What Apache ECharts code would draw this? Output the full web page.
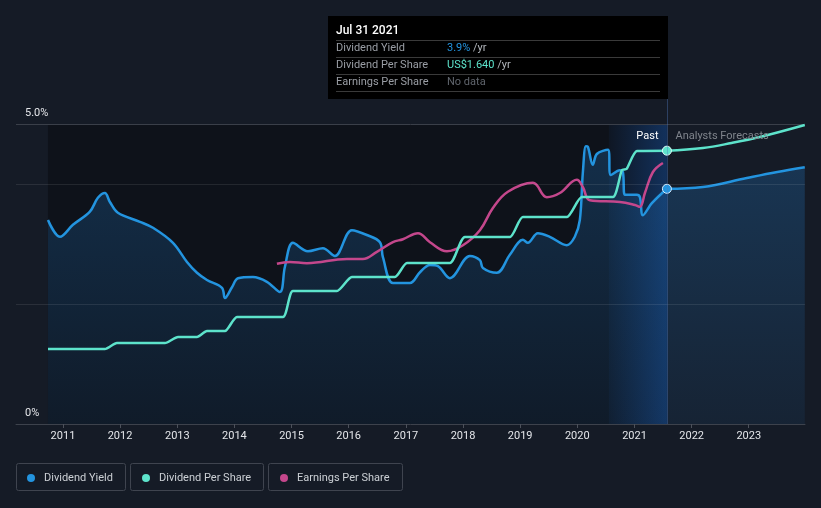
<!DOCTYPE html>
<html><head><meta charset="utf-8">
<script src="https://cdn.jsdelivr.net/npm/echarts@6/dist/echarts.min.js"></script>
<style>html,body{margin:0;padding:0;background:#151b26;}#c{width:821px;height:508px;}</style>
</head><body><div id="c"></div>
<script>
// ---- data (dates as decimal years) ----
const yieldPastDates = [2010.738,2010.948,2011.175,2011.472,2011.612,2011.735,2011.822,2011.962,2012.347,2012.575,2012.924,2013.169,2013.344,2013.519,2013.782,2013.834,2013.957,2014.062,2014.324,2014.569,2014.796,2014.884,2015.024,2015.286,2015.549,2015.759,2016.056,2016.318,2016.546,2016.598,2016.773,2017.071,2017.246,2017.421,2017.561,2017.770,2018.120,2018.295,2018.348,2018.593,2018.820,2019.048,2019.135,2019.310,2019.520,2019.817,2019.957,2020.045,2020.097,2020.150,2020.185,2020.272,2020.342,2020.535,2020.587,2020.745,2020.797,2020.832,2021.042,2021.094,2021.147,2021.304,2021.567];
const yieldPast = [3.40,3.12,3.32,3.54,3.77,3.85,3.70,3.52,3.37,3.27,3.02,2.70,2.52,2.40,2.27,2.10,2.28,2.43,2.45,2.37,2.20,2.62,3.02,2.88,2.93,2.80,3.23,3.15,3.03,2.78,2.35,2.35,2.53,2.65,2.63,2.43,2.80,2.73,2.60,2.52,2.82,3.07,3.02,3.18,3.12,2.98,3.12,3.40,4.18,4.63,4.62,4.32,4.50,4.57,4.15,4.23,4.20,3.82,3.82,3.78,3.48,3.68,3.92];
const yieldFcDates = [2021.567,2022.197,2022.967,2023.500,2023.981];
const yieldFc = [3.92,3.95,4.10,4.20,4.28];

const dpsPastDates = [2010.738,2011.735,2011.945,2012.784,2013.012,2013.344,2013.519,2013.834,2014.044,2014.849,2015.024,2015.794,2016.056,2016.808,2017.018,2017.770,2018.033,2018.820,2019.048,2019.817,2020.080,2020.622,2020.780,2020.860,2021.042,2021.567];
const dpsPast = [0.450,0.450,0.486,0.486,0.522,0.522,0.558,0.558,0.642,0.642,0.798,0.798,0.882,0.882,0.966,0.966,1.122,1.122,1.242,1.242,1.362,1.362,1.524,1.530,1.638,1.640];
const dpsFcDates = [2021.567,2022.197,2022.700,2023.194,2023.981];
const dpsFc = [1.640,1.656,1.686,1.722,1.794];

const epsDates = [2014.744,2014.971,2015.269,2015.969,2016.248,2016.493,2016.773,2016.948,2017.211,2017.421,2017.718,2017.998,2018.295,2018.523,2018.785,2019.223,2019.467,2019.695,2019.992,2020.097,2020.220,2020.745,2021.007,2021.094,2021.182,2021.322,2021.497];
const eps = [2.67,2.70,2.68,2.75,2.75,2.87,3.03,3.08,3.18,3.03,2.88,2.98,3.23,3.60,3.87,4.02,3.78,3.85,4.07,3.95,3.73,3.70,3.65,3.62,3.85,4.20,4.35];

const yTicks = [0, 5];
const gridValues = [2, 4, 5];
const axisStart = 2010.178, axisEnd = 2023.985;
const pastStart = 2020.552, cursorDate = 2021.567;

const tip = {
  title: 'Jul 31 2021',
  rows: [
    ['Dividend Yield', '3.9%', ' /yr', '#2394df'],
    ['Dividend Per Share', 'US$1.640', ' /yr', '#5de3cb'],
    ['Earnings Per Share', 'No data', '', '#60656d']
  ]
};

// ---- helpers ----
function t(y){ const yr=Math.floor(y); const s=Date.UTC(yr,0,1), e=Date.UTC(yr+1,0,1); return s+(y-yr)*(e-s); }
function pts(d, v){ return d.map((x,i)=>[t(x), v[i]]); }

const BLUE='#2394df', TEAL='#5de3cb', PINK='#c4478c';
const FONT='Roboto, sans-serif';

const areaGrad = new echarts.graphic.LinearGradient(0,0,0,1,[
  {offset:0,color:'rgba(34,125,205,0.38)'},{offset:1,color:'rgba(34,125,205,0.12)'}]);

const yieldPastData = pts(yieldPastDates, yieldPast);
const yieldFcData = pts(yieldFcDates, yieldFc);
yieldFcData[0] = {value: yieldFcData[0], symbol:'circle', symbolSize:9, itemStyle:{color:BLUE,borderColor:'#dbeeff',borderWidth:1}};
const dpsFcData = pts(dpsFcDates, dpsFc);
dpsFcData[0] = {value: dpsFcData[0], symbol:'circle', symbolSize:9, itemStyle:{color:TEAL,borderColor:'#e6fffa',borderWidth:1}};

const chart = echarts.init(document.getElementById('c'));
const option = {
  backgroundColor:'#151b26',
  useUTC:true,
  animation:false,
  textStyle:{fontFamily:FONT},
  grid:{left:16,right:16,top:124,bottom:84,containLabel:false},
  xAxis:{
    type:'time', min:t(axisStart), max:t(axisEnd),
    minInterval:365*864e5, maxInterval:366*864e5, splitNumber:13,
    axisLine:{lineStyle:{color:'#3d424c',width:1}},
    axisTick:{show:true,length:4,lineStyle:{color:'#4c515b'}},
    splitLine:{show:false},
    axisLabel:{color:'#e4e6ea',fontSize:11,margin:7,fontFamily:FONT,
      formatter:(v)=>String(new Date(v).getUTCFullYear())}
  },
  yAxis:[
    {type:'value',min:0,max:5,interval:1,
      axisLine:{show:false},axisTick:{show:false},splitLine:{show:false},
      axisLabel:{inside:true,margin:9,color:'#e4e6ea',fontSize:11,verticalAlign:'bottom',
        lineHeight:14,padding:[0,0,4,0],fontFamily:FONT,
        formatter:(v)=> v===5 ? '5.0%' : (v===0 ? '0%' : '')}},
    {type:'value',min:0,max:1.8,show:false},
    {type:'value',min:0,max:5,show:false}
  ],
  legend:[
    {data:['Dividend Yield'],left:27,top:471,padding:0},
    {data:['Dividend Per Share'],left:142,top:471,padding:0},
    {data:['Earnings Per Share'],left:280,top:471,padding:0}
  ].map(l=>Object.assign(l,{icon:'circle',itemWidth:8,itemHeight:8,
      textStyle:{color:'#ccd0d5',fontSize:11,fontFamily:FONT,padding:[0,0,0,4],lineHeight:14}})),
  series:[
    {type:'line',name:'bg',data:[],silent:true,z:1,
      markArea:{silent:true,data:[
        [{xAxis:t(yieldPastDates[0]),itemStyle:{color:'rgba(0,0,0,0.30)'}},{xAxis:t(cursorDate)}],
        [{xAxis:t(pastStart),itemStyle:{color:new echarts.graphic.LinearGradient(0,0,1,0,[
            {offset:0,color:'rgba(25,95,190,0.06)'},{offset:1,color:'rgba(25,95,190,0.40)'}])}},{xAxis:t(cursorDate)}]
      ]},
      markLine:{silent:true,symbol:'none',label:{show:false},
        data:gridValues.map(v=>({yAxis:v,lineStyle:{color: v===5?'#3a3f49':'rgba(255,255,255,0.09)',width:1,type:'solid'}}))}
    },
    {type:'line',name:'Dividend Yield',data:yieldPastData,yAxisIndex:0,smooth:0.35,showSymbol:false,z:3,
      lineStyle:{color:BLUE,width:2.5},itemStyle:{color:BLUE},areaStyle:{color:areaGrad}},
    {type:'line',name:'Dividend Yield',data:yieldFcData,yAxisIndex:0,smooth:0.4,symbol:'none',showSymbol:true,z:4,
      lineStyle:{color:BLUE,width:2.5},itemStyle:{color:BLUE},areaStyle:{color:areaGrad}},
    {type:'line',name:'Dividend Per Share',data:pts(dpsPastDates,dpsPast),yAxisIndex:1,smooth:0.2,showSymbol:false,z:5,
      lineStyle:{color:TEAL,width:2.5},itemStyle:{color:TEAL}},
    {type:'line',name:'Dividend Per Share',data:dpsFcData,yAxisIndex:1,smooth:0.4,symbol:'none',showSymbol:true,z:6,
      lineStyle:{color:TEAL,width:2.5},itemStyle:{color:TEAL}},
    {type:'line',name:'Earnings Per Share',data:pts(epsDates,eps),yAxisIndex:2,smooth:0.4,showSymbol:false,z:4,
      lineStyle:{color:PINK,width:2.5},itemStyle:{color:PINK}}
  ]
};
chart.setOption(option);

// ---- decorations: cursor line, Past / Forecast labels, tooltip, legend boxes ----
const cx = Math.round(chart.convertToPixel({xAxisIndex:0}, t(cursorDate))) + 0.5;
const g = [];
g.push({type:'line',shape:{x1:cx,y1:99,x2:cx,y2:424},style:{stroke:'rgba(80,120,190,0.40)',lineWidth:1},z:10,silent:true});
g.push({type:'text',x:cx-9,y:136,style:{text:'Past',fill:'#ffffff',font:'11px '+FONT,align:'right',verticalAlign:'middle'},z:10});
g.push({type:'text',x:cx+8,y:136,style:{text:'Analysts Forecasts',fill:'#7f848c',font:'11px '+FONT,align:'left',verticalAlign:'middle'},z:10});
// tooltip box
g.push({type:'rect',shape:{x:328,y:16,width:340,height:83},style:{fill:'#000000'},z:20});
g.push({type:'text',x:336,y:30.5,style:{text:tip.title,fill:'#ffffff',font:'500 12px '+FONT,verticalAlign:'middle'},z:21});
[40.5,57.5,74.5,91.5].forEach(y=>g.push({type:'line',shape:{x1:336,y1:y,x2:660,y2:y},style:{stroke:'#3a3a3a',lineWidth:1},z:21}));
tip.rows.forEach((r,i)=>{
  const y = 48 + i*17;
  g.push({type:'text',x:336,y:y,style:{text:r[0],fill:'#9a9ea5',font:'11px '+FONT,verticalAlign:'middle'},z:21});
  g.push({type:'text',x:447,y:y,style:{rich:{a:{fill:r[3],font:'11px '+FONT},b:{fill:'#b4b8be',font:'11px '+FONT}},
    text:'{a|'+r[1]+'}'+(r[2]?'{b|'+r[2]+'}':''),verticalAlign:'middle'},z:21});
});
// legend boxes
[[16.5,109],[130.5,133],[268.5,134]].forEach(b=>g.push({type:'rect',shape:{x:b[0],y:463.5,width:b[1],height:27,r:2},
  style:{fill:'none',stroke:'#3f444f',lineWidth:1},z:0,silent:true}));
chart.setOption({graphic:g});
</script></body></html>
